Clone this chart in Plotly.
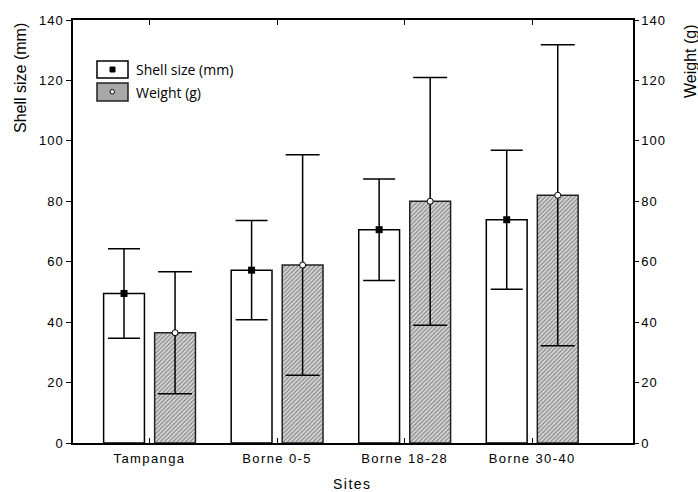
import plotly.graph_objects as go

sites = ["Tampanga", "Borne 0-5", "Borne 18-28", "Borne 30-40"]
shell_mean = [49.5, 57.2, 70.6, 73.9]
shell_sd = [14.8, 16.4, 16.8, 23.0]
weight_mean = [36.5, 58.9, 80.0, 82.0]
weight_sd = [20.2, 36.5, 41.0, 49.8]
y_ticks = [0, 20, 40, 60, 80, 100, 120, 140]

W, H = 698, 492
L, R, T, B = 73, 633, 20, 443

def px(x):
    return (x - L) / (R - L)

def py(y):
    return (B - y) / (B - T)

def spaced(s, sp=1.3):
    return '<span style="letter-spacing:%spx">%s</span>' % (sp, s)

idx = list(range(len(sites)))
x_shell = [i - 0.2 for i in idx]
x_weight = [i + 0.2 for i in idx]

fig = go.Figure()
fig.add_trace(go.Bar(
    x=idx, y=shell_mean, width=0.32, offset=-0.36,
    marker=dict(color="white", line=dict(color="black", width=1.5)),
    showlegend=False, name="Shell size (mm)"))
fig.add_trace(go.Bar(
    x=idx, y=weight_mean, width=0.32, offset=0.04, yaxis="y2",
    marker=dict(color="white", line=dict(color="#222", width=1.5),
                pattern=dict(shape="/", fgcolor="#333", bgcolor="#d8d8d8", size=3, solidity=0.4)),
    showlegend=False, name="Weight (g)"))
fig.add_trace(go.Scatter(
    x=x_shell, y=shell_mean, mode="markers",
    marker=dict(symbol="square", size=7, color="black"),
    error_y=dict(type="data", array=shell_sd, color="black", thickness=1.5, width=16),
    showlegend=False))
fig.add_trace(go.Scatter(
    x=x_weight, y=weight_mean, mode="markers", yaxis="y2",
    marker=dict(symbol="circle", size=6, color="white", line=dict(color="black", width=1)),
    error_y=dict(type="data", array=weight_sd, color="black", thickness=1.5, width=17),
    showlegend=False))

tickfont = dict(family="Liberation Sans, Arial, sans-serif", size=13, color="black")

fig.update_layout(
    width=W, height=H,
    margin=dict(l=L, r=W - R, t=T, b=H - B),
    plot_bgcolor="white", paper_bgcolor="white",
    barmode="overlay",
    xaxis=dict(range=[-0.6, 3.79], tickmode="array", tickvals=idx,
               ticktext=[spaced(s, 1.4) for s in sites],
               ticks="inside", ticklen=5, tickwidth=1, tickcolor="black",
               ticklabelstandoff=3,
               showline=True, linecolor="black", linewidth=1.5, mirror="ticks",
               showgrid=False, zeroline=False, tickfont=tickfont),
    yaxis=dict(range=[0, 140], tickvals=y_ticks, ticktext=[spaced(v, 1) for v in y_ticks],
               ticks="outside", ticklen=5,
               tickwidth=1, tickcolor="black", showline=True, linecolor="black",
               linewidth=1.5, showgrid=False, zeroline=False, tickfont=tickfont),
    yaxis2=dict(range=[0, 140], tickvals=y_ticks, ticktext=[spaced(v, 1) for v in y_ticks],
                ticks="outside", ticklen=4,
                tickwidth=1, tickcolor="black", showline=True, linecolor="black",
                linewidth=1.5, showgrid=False, zeroline=False, tickfont=tickfont,
                overlaying="y", side="right"),
)

titlefont = dict(family="Liberation Sans, Arial, sans-serif", size=16, color="black")
ann = [
    dict(text="Shell size (mm)", x=px(20), y=py(78), textangle=-90, font=titlefont),
    dict(text="Weight (g)", x=px(690), y=py(61), textangle=-90, font=titlefont),
    dict(text=spaced("Sites", 1.5), x=px(352), y=py(484),
         font=dict(family="Liberation Sans, Arial, sans-serif", size=14, color="black")),
]
legfont = dict(family="Open Sans, Noto Sans, sans-serif", size=14, color="black")
ann += [
    dict(text="Shell size (mm)", x=px(134), y=py(70), xanchor="left", font=legfont),
    dict(text="Weight (g)", x=px(134), y=py(92), xanchor="left", font=legfont),
]
for a in ann:
    a.update(xref="paper", yref="paper", showarrow=False)
    a.setdefault("xanchor", "center")
    a.setdefault("yanchor", "middle")
fig.update_layout(annotations=ann)

shapes = [
    dict(type="rect", x0=px(97), x1=px(128), y0=py(61), y1=py(78),
         line=dict(color="black", width=1.5), fillcolor="white"),
    dict(type="rect", x0=px(97), x1=px(128), y0=py(83), y1=py(101),
         line=dict(color="#222", width=1.5), fillcolor="#a8a8a8"),
    dict(type="rect", x0=px(110), x1=px(115), y0=py(67), y1=py(72),
         line=dict(color="black", width=1), fillcolor="black"),
    dict(type="circle", x0=px(110), x1=px(114.5), y0=py(89.5), y1=py(94),
         line=dict(color="black", width=1), fillcolor="white"),
]
for s in shapes:
    s.update(xref="paper", yref="paper")
fig.update_layout(shapes=shapes)

fig.write_html("out.html", config={"displayModeBar": False},
               post_script="document.body.style.margin='0';")
